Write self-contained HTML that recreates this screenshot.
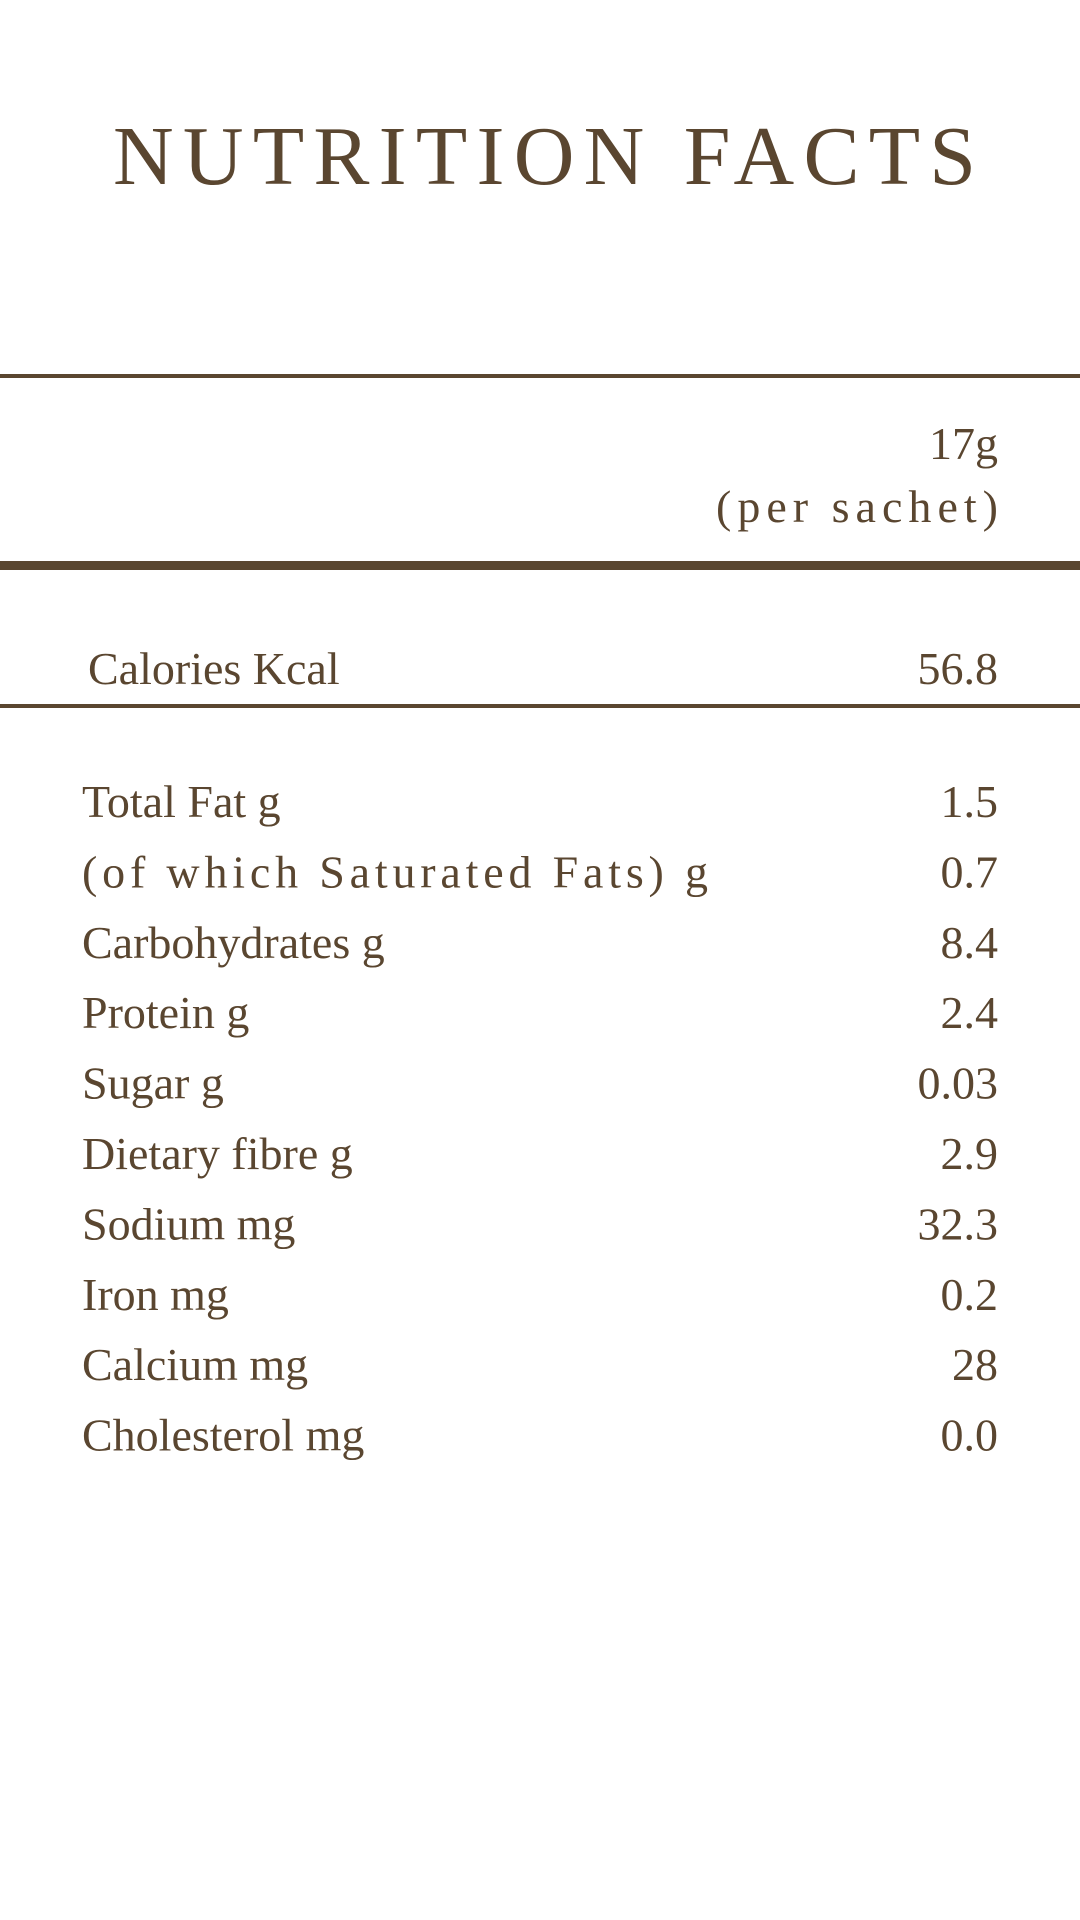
<!DOCTYPE html>
<html><head><meta charset="utf-8"><style>
html,body{margin:0;padding:0;background:#fff;}
svg{display:block;}
text{font-family:"Liberation Serif",serif;fill:#5a4630;}
</style></head><body>
<svg id="chart" width="1080" height="1920" viewBox="0 0 1080 1920">
<text x="113" y="184" font-size="84" textLength="863" lengthAdjust="spacing">NUTRITION FACTS</text>
<rect x="0" y="374" width="1080" height="4" fill="#5a4630"/>
<text x="998" y="459" font-size="46" text-anchor="end">17g</text>
<text x="998" y="522" font-size="46" text-anchor="end" textLength="282" lengthAdjust="spacing">(per sachet)</text>
<rect x="0" y="561" width="1080" height="9" fill="#5a4630"/>
<text x="88" y="684" font-size="46">Calories Kcal</text>
<text x="998" y="684" font-size="46" text-anchor="end">56.8</text>
<rect x="0" y="704" width="1080" height="4" fill="#5a4630"/>
<g id="rows"></g>
</svg>
<script>
const labels = ["Total Fat g","(of which Saturated Fats) g","Carbohydrates g","Protein g","Sugar g","Dietary fibre g","Sodium mg","Iron mg","Calcium mg","Cholesterol mg"];
const values = ["1.5","0.7","8.4","2.4","0.03","2.9","32.3","0.2","28","0.0"];
const g = document.getElementById('rows');
const NS = 'http://www.w3.org/2000/svg';
const y0 = 817, step = 70.4;
labels.forEach((l, i) => {
  const y = y0 + i * step;
  const t = document.createElementNS(NS, 'text');
  
  
  t.setAttribute('x', 82); t.setAttribute('y', y); t.setAttribute('font-size', 46);
  if (i === 1) { t.setAttribute('textLength', 626); t.setAttribute('lengthAdjust', 'spacing'); }
  t.textContent = l;
  g.appendChild(t);
  const v = document.createElementNS(NS, 'text');
  
  
  v.setAttribute('x', 998); v.setAttribute('y', y); v.setAttribute('font-size', 46);
  v.setAttribute('text-anchor', 'end');
  v.textContent = values[i];
  g.appendChild(v);
});
</script>
</body></html>
